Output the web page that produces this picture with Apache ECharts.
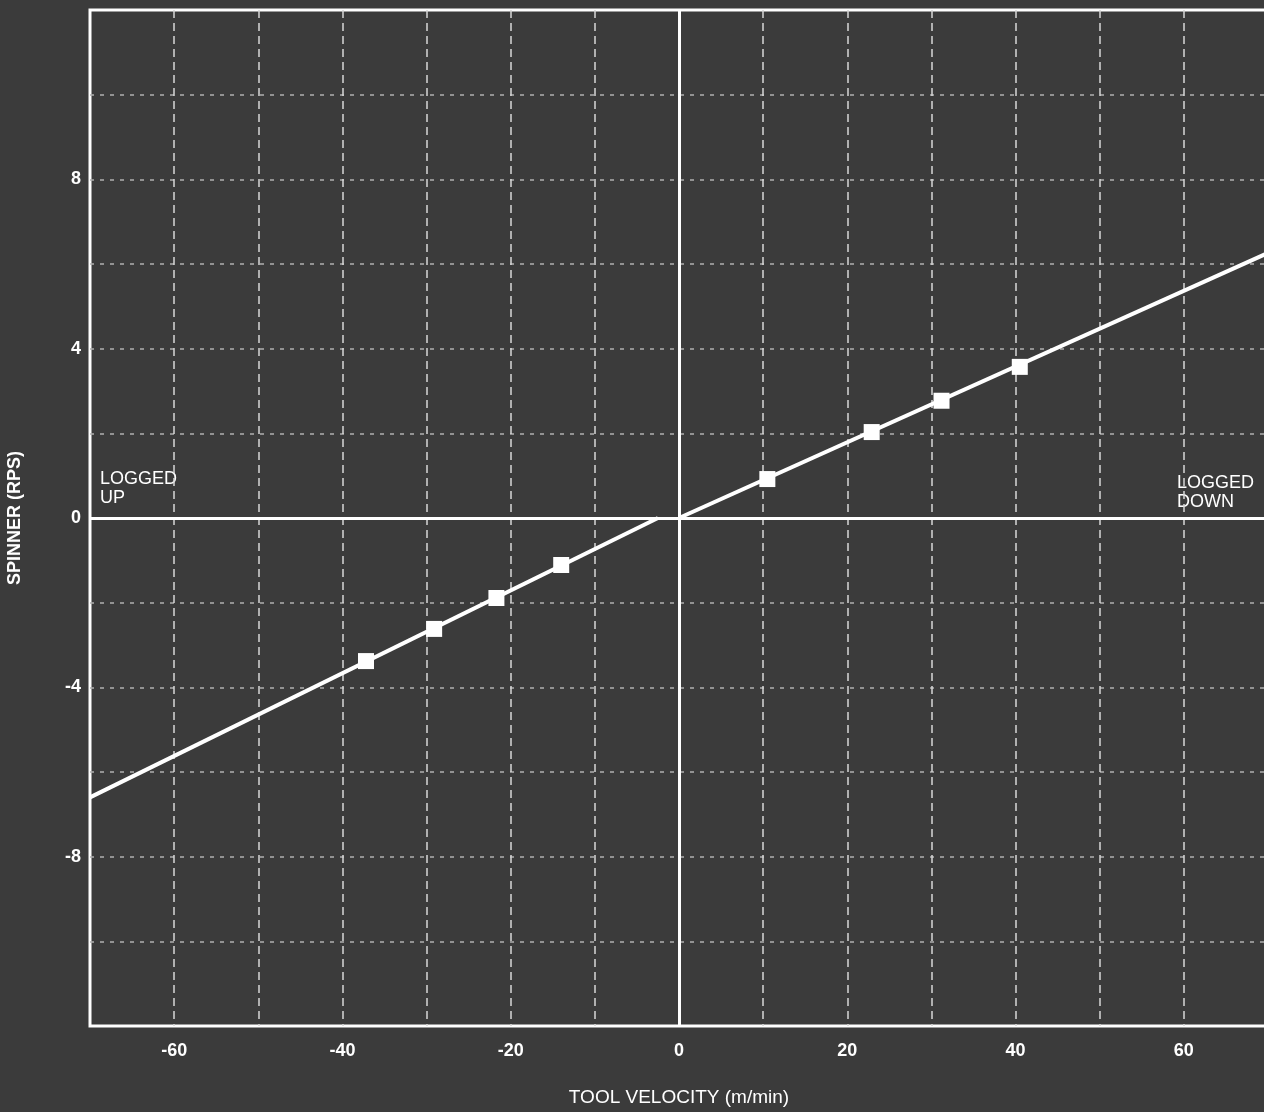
<!DOCTYPE html>
<html>
<head>
<meta charset="utf-8">
<script src="https://cdn.jsdelivr.net/npm/echarts@6/dist/echarts.min.js"></script>
<style>
  html, body { margin: 0; padding: 0; background: #3b3b3b; }
  #main { width: 1264px; height: 1112px; }
</style>
</head>
<body>
<div id="main"></div>
<script>
// measured points: tool velocity (m/min) vs spinner (rps)
const velocity = [-37.2, -29.1, -21.7, -14.0, 10.5, 22.9, 31.2, 40.5];
const spinner = [-3.38, -2.62, -1.89, -1.11, 0.92, 2.03, 2.77, 3.57];

// fitted lines, logged up and logged down
const fitUp = [[-70, -6.6], [-2.5, 0]];
const fitDown = [[0, 0], [70, 6.26]];

const xTicks = [-60, -40, -20, 0, 20, 40, 60];
const yTicks = [-8, -4, 0, 4, 8];

const white = "#ffffff";
const font = "Liberation Sans, Arial, sans-serif";

const chartDom = document.getElementById("main");
const myChart = echarts.init(chartDom);

const option = {
  backgroundColor: "#3b3b3b",
  animation: false,
  grid: {
    left: 90,
    right: -4,
    top: 10,
    bottom: 86,
    outerBoundsMode: "none",
    containLabel: false,
    show: true,
    borderColor: white,
    borderWidth: 3,
  },
  xAxis: {
    type: "value",
    min: -70,
    max: 70,
    interval: 10,
    name: "TOOL VELOCITY (m/min)",
    nameLocation: "middle",
    nameGap: 62,
    nameTextStyle: { color: white, fontFamily: font, fontSize: 19 },
    axisLine: { show: false },
    axisTick: { show: false },
    axisLabel: {
      color: white,
      fontFamily: font,
      fontSize: 18,
      fontWeight: "bold",
      margin: 16,
      formatter: (v) => (xTicks.includes(v) ? String(v) : ""),
    },
    splitLine: {
      show: true,
      showMinLine: false,
      showMaxLine: false,
      lineStyle: { color: "#d8d8d8", width: 1.5, type: [8, 5] },
    },
  },
  yAxis: {
    type: "value",
    min: -12,
    max: 12,
    interval: 2,
    name: "SPINNER (RPS)",
    nameLocation: "middle",
    nameGap: 66,
    nameTextStyle: { color: white, fontFamily: font, fontSize: 18, fontWeight: "bold" },
    axisLine: { show: false },
    axisTick: { show: false },
    axisLabel: {
      color: white,
      fontFamily: font,
      fontSize: 18,
      fontWeight: "bold",
      margin: 9,
      formatter: (v) => (yTicks.includes(v) ? String(v) : ""),
    },
    splitLine: {
      show: true,
      showMinLine: false,
      showMaxLine: false,
      lineStyle: { color: "#b0b0b0", width: 1.5, type: [4, 6] },
    },
  },
  series: [
    {
      type: "line",
      data: fitUp,
      symbol: "none",
      lineStyle: { color: white, width: 4 },
      markLine: {
        silent: true,
        symbol: "none",
        label: { show: false },
        lineStyle: { color: white, width: 3, type: "solid" },
        data: [{ xAxis: 0 }, { yAxis: 0 }],
      },
    },
    {
      type: "line",
      data: fitDown,
      symbol: "none",
      lineStyle: { color: white, width: 4 },
    },
    {
      type: "scatter",
      data: velocity.map((v, i) => [v, spinner[i]]),
      symbol: "rect",
      symbolSize: 16,
      itemStyle: { color: white, opacity: 1 },
      z: 5,
    },
  ],
  graphic: [
    {
      type: "text",
      left: 100,
      top: 470,
      style: {
        text: "LOGGED\nUP",
        fill: white,
        font: "18px " + font,
        lineHeight: 19,
      },
    },
    {
      type: "text",
      left: 1177,
      top: 474,
      style: {
        text: "LOGGED\nDOWN",
        fill: white,
        font: "18px " + font,
        lineHeight: 19,
      },
    },
  ],
};

myChart.setOption(option);
</script>
</body>
</html>
